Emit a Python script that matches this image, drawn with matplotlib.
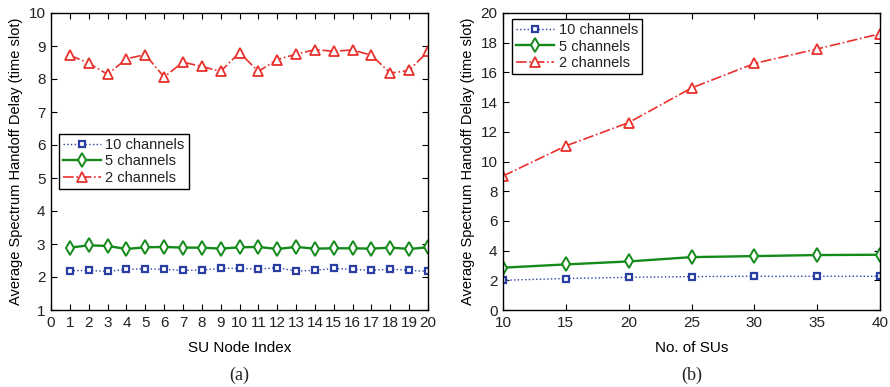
import matplotlib
matplotlib.use('Agg')
import matplotlib.pyplot as plt

plt.rcParams['font.family'] = ['Liberation Sans', 'DejaVu Sans']
plt.rcParams['text.color'] = '#222222'
plt.rcParams['xtick.labelcolor'] = '#222222'
plt.rcParams['ytick.labelcolor'] = '#222222'

# (a) delay vs SU node index
node_idx = list(range(1, 21))
a_ch10 = [2.19, 2.20, 2.17, 2.23, 2.25, 2.23, 2.20, 2.21, 2.26, 2.26,
          2.24, 2.28, 2.18, 2.20, 2.26, 2.23, 2.20, 2.24, 2.20, 2.17]
a_ch5 = [2.89, 2.96, 2.94, 2.85, 2.90, 2.91, 2.89, 2.89, 2.86, 2.90,
         2.91, 2.85, 2.91, 2.86, 2.87, 2.87, 2.86, 2.89, 2.85, 2.90]
a_ch2 = [8.72, 8.48, 8.14, 8.61, 8.74, 8.06, 8.51, 8.38, 8.23, 8.80,
         8.23, 8.59, 8.75, 8.89, 8.84, 8.88, 8.72, 8.18, 8.26, 8.84]

# (b) delay vs number of SUs
num_sus = [10, 15, 20, 25, 30, 35, 40]
b_ch10 = [2.00, 2.12, 2.20, 2.25, 2.27, 2.27, 2.27]
b_ch5 = [2.85, 3.07, 3.27, 3.56, 3.63, 3.70, 3.72]
b_ch2 = [9.02, 11.05, 12.62, 14.95, 16.60, 17.58, 18.60]

labels = ['10 channels', '5 channels', '2 channels']
BLUE = '#2b3fa3'
GREEN = '#138a1a'
RED = '#e8302c'

fig = plt.figure(figsize=(8.9, 3.87), dpi=100)
ax1 = fig.add_axes([51/890, 1-310/387, 377/890, 297/387])
ax2 = fig.add_axes([503/890, 1-310/387, 377/890, 297/387])


def draw(ax, x, ys):
    c10, c5, c2 = ys
    ax.plot(x, c10, linestyle=':', color=BLUE, lw=1.0, marker='s', ms=5,
            mfc='white', mec=BLUE, mew=1.6, label=labels[0])
    ax.plot(x, c5, linestyle='-', color=GREEN, lw=1.7, marker='d', ms=7,
            mfc='white', mec=GREEN, mew=1.4, label=labels[1])
    ax.plot(x, c2, linestyle='-.', color=RED, lw=1.2, marker='^', ms=7,
            mfc='white', mec=RED, mew=1.3, label=labels[2])
    ax.tick_params(direction='in', top=True, right=True, length=4,
                   width=0.8, labelsize=11, pad=4)
    for s in ax.spines.values():
        s.set_linewidth(1.0)


def legend(ax, anchor):
    leg = ax.legend(loc='upper left', bbox_to_anchor=anchor, fontsize=10.5,
                    frameon=True, fancybox=False, edgecolor='black', framealpha=1,
                    borderpad=0.3, labelspacing=0.15, handlelength=2.6,
                    handletextpad=0.3, borderaxespad=0)
    leg.get_frame().set_linewidth(1.0)


draw(ax1, node_idx, (a_ch10, a_ch5, a_ch2))
ax1.set_xlim(0, 20)
ax1.set_ylim(1, 10)
ax1.set_xticks(range(0, 21))
ax1.set_yticks(range(1, 11))
ax1.set_xlabel('SU Node Index', fontsize=11, labelpad=8)
ax1.set_ylabel('Average Spectrum Handoff Delay (time slot)', fontsize=10.5, labelpad=4)
legend(ax1, (0.02, 0.593))
fig.text((51 + 428) / 2 / 890, 1 - 375/387, '(a)', ha='center', va='center',
         fontsize=13, family='Liberation Serif')

draw(ax2, num_sus, (b_ch10, b_ch5, b_ch2))
ax2.set_xlim(10, 40)
ax2.set_ylim(0, 20)
ax2.set_xticks(num_sus)
ax2.set_yticks(range(0, 21, 2))
ax2.set_xlabel('No. of SUs', fontsize=11, labelpad=8)
ax2.set_ylabel('Average Spectrum Handoff Delay (time slot)', fontsize=10.5, labelpad=4)
legend(ax2, (0.024, 0.98))
fig.text((503 + 880) / 2 / 890, 1 - 375/387, '(b)', ha='center', va='center',
         fontsize=13, family='Liberation Serif')

fig.savefig('out.png', dpi=100)
